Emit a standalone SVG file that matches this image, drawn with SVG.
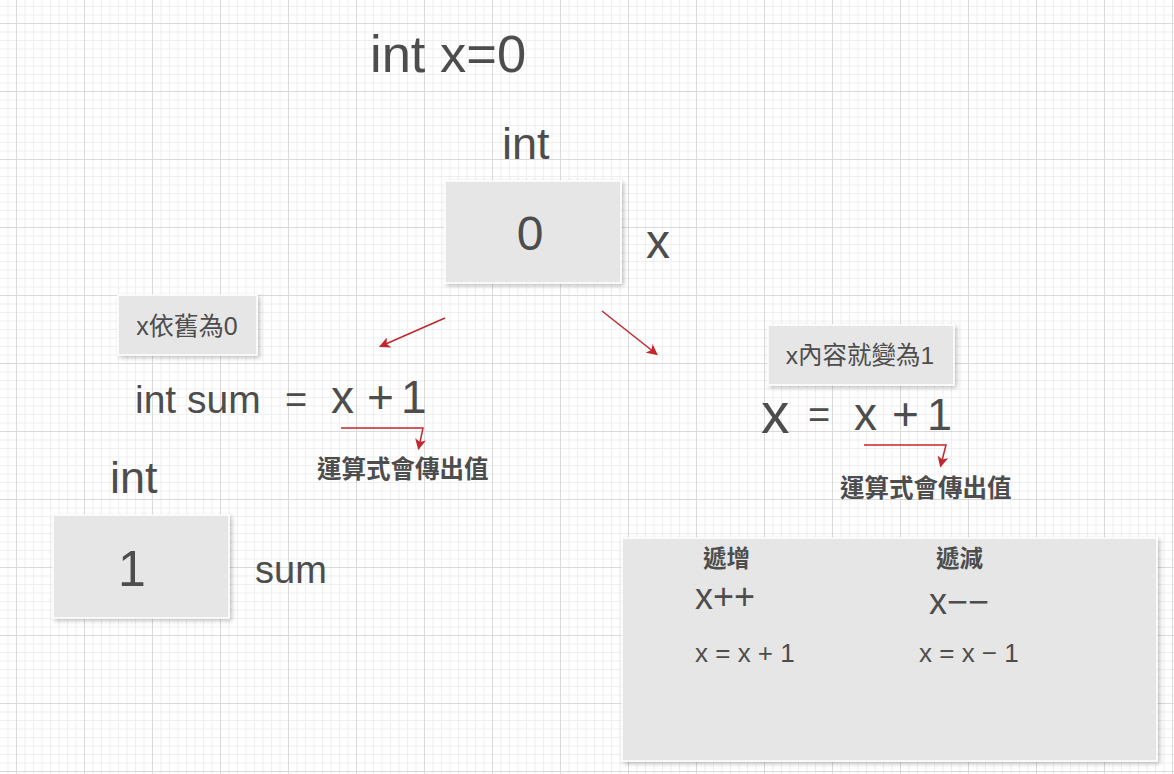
<svg xmlns="http://www.w3.org/2000/svg" width="1174" height="774" viewBox="0 0 1174 774">
  <defs>
    <pattern id="grid" x="16" y="23" width="68" height="68" patternUnits="userSpaceOnUse">
      <path d="M9 0V68M17.5 0V68M26 0V68M34.5 0V68M43 0V68M51.5 0V68M60 0V68M0 9H68M0 17.5H68M0 26H68M0 34.5H68M0 43H68M0 51.5H68M0 60H68" stroke="#efefef" stroke-width="1" fill="none"/>
      <path d="M0.5 0V68M0 0.5H68" stroke="#dadada" stroke-width="1" fill="none"/>
    </pattern>
    <filter id="shadow" x="-10%" y="-10%" width="130%" height="140%">
      <feDropShadow dx="2" dy="2" stdDeviation="2" flood-color="#000" flood-opacity="0.25"/>
    </filter>
    <marker id="arrow" viewBox="0 0 10 10" refX="9" refY="5" markerWidth="11" markerHeight="11" markerUnits="userSpaceOnUse" orient="auto">
      <path d="M0 0L10 5L0 10L2.5 5Z" fill="#c1272d"/>
    </marker>
    <style>
      .t { font-family: "Liberation Sans", "Noto Sans CJK TC", sans-serif; fill: #4d4d4d; }
      .cjk { font-family: "Liberation Sans", "Noto Sans CJK TC", sans-serif; fill: #4d4d4d; }
      .b { font-weight: bold; }
      .box { fill: #e6e6e6; stroke: #ffffff; stroke-width: 1.5; filter: url(#shadow); }
      .conn { stroke: #c1272d; stroke-width: 1.5; fill: none; marker-end: url(#arrow); }
    </style>
  </defs>
  <rect width="1174" height="774" fill="#ffffff"/>
  <rect width="1174" height="774" fill="url(#grid)"/>

  <g id="title">
    <text class="t" x="370" y="72" font-size="52.5">int x=0</text>
  </g>

  <g id="var-x">
    <text class="t" x="502" y="159" font-size="45">int</text>
    <rect class="box" x="445" y="181" width="176" height="102"/>
    <text class="t" x="530" y="250" font-size="48" text-anchor="middle">0</text>
    <text class="t" x="646" y="258" font-size="48">x</text>
  </g>

  <g id="note-left">
    <rect class="box" x="118" y="295" width="139" height="60"/>
    <text class="cjk" x="187" y="335" font-size="25" text-anchor="middle">x依舊為0</text>
  </g>

  <g id="expr-left">
    <text class="t" x="135" y="413" font-size="39">int sum</text>
    <text class="t" x="285" y="413" font-size="38">=</text>
    <text class="t" x="331" y="413" font-size="46">x</text>
    <text class="t" x="367" y="413" font-size="46">+</text>
    <text class="t" x="401" y="413" font-size="46">1</text>
    <text class="cjk b" x="317" y="478" font-size="24.5">運算式會傳出值</text>
  </g>

  <g id="var-sum">
    <text class="t" x="110" y="493" font-size="45">int</text>
    <rect class="box" x="53" y="515" width="176" height="103"/>
    <text class="t" x="132" y="586" font-size="50" text-anchor="middle">1</text>
    <text class="t" x="255" y="583" font-size="38">sum</text>
  </g>

  <g id="note-right">
    <rect class="box" x="768" y="325" width="186" height="60"/>
    <text class="cjk" x="860" y="364" font-size="24.5" text-anchor="middle">x內容就變為1</text>
  </g>

  <g id="expr-right">
    <text class="t" x="761" y="433" font-size="57">x</text>
    <text class="t" x="808" y="428" font-size="38">=</text>
    <text class="t" x="854" y="430" font-size="46">x</text>
    <text class="t" x="892" y="430" font-size="46">+</text>
    <text class="t" x="927" y="430" font-size="45">1</text>
    <text class="cjk b" x="840" y="497" font-size="24.5">運算式會傳出值</text>
  </g>

  <g id="summary">
    <rect class="box" x="622" y="538" width="535" height="223"/>
    <text class="cjk b" x="703" y="567" font-size="23.5">遞增</text>
    <text class="cjk b" x="936" y="567" font-size="23.5">遞減</text>
    <text class="t" x="695" y="609" font-size="36">x++</text>
    <text class="t" x="929" y="614" font-size="36">x−−</text>
    <text class="t" x="695" y="662" font-size="26">x = x + 1</text>
    <text class="t" x="919" y="662" font-size="26">x = x − 1</text>
  </g>

  <g id="connectors">
    <path class="conn" d="M445 318L380 346.5"/>
    <path class="conn" d="M602 311L657 354.5"/>
    <path class="conn" d="M341 428H423L418.5 449"/>
    <path class="conn" d="M864 445H946L940.5 466.5"/>
  </g>
</svg>
